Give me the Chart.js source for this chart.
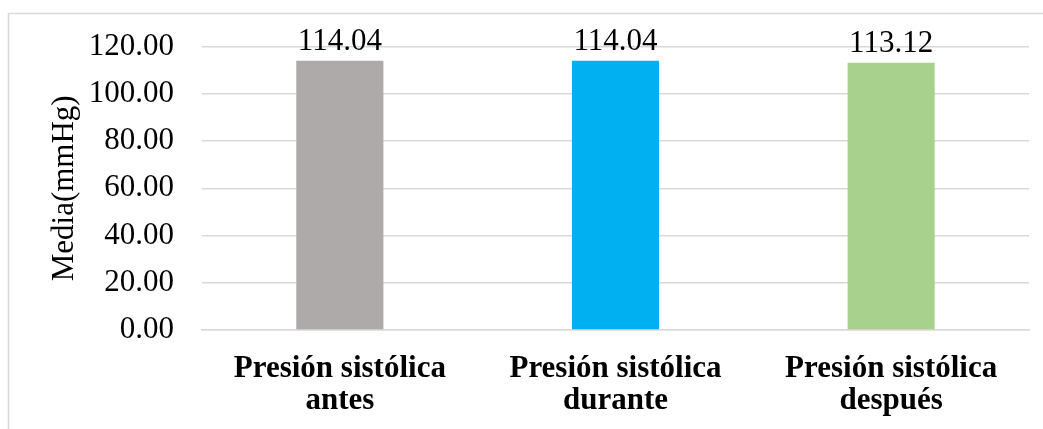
<!DOCTYPE html>
<html>
<head>
<meta charset="utf-8">
<script src="https://cdn.jsdelivr.net/npm/chart.js@4/dist/chart.umd.min.js"></script>
<style>
  html, body { margin: 0; padding: 0; background: #ffffff; overflow: hidden; }
  #wrap { width: 1043px; height: 429px; position: relative; }
</style>
</head>
<body>
<div id="wrap"><canvas id="c" width="1043" height="429"></canvas></div>
<script>
// Mean systolic pressure (mmHg) at three moments
const categories = [
  ['Presión sistólica', 'antes'],
  ['Presión sistólica', 'durante'],
  ['Presión sistólica', 'después']
];
const values = [114.04, 114.04, 113.12];
const barColors = ['#AEAAAA', '#00B0F0', '#A9D18E'];
const yTicks = [0, 20, 40, 60, 80, 100, 120];
const yTitle = 'Media(mmHg)';

const SERIF = "'Liberation Serif', 'Times New Roman', serif";

// Thin frame around the whole chart
const framePlugin = {
  id: 'frame',
  beforeDraw(chart) {
    const ctx = chart.ctx;
    ctx.save();
    ctx.fillStyle = '#ffffff';
    ctx.fillRect(0, 0, chart.width, chart.height);
    ctx.strokeStyle = '#d9d9d9';
    ctx.lineWidth = 1.5;
    ctx.strokeRect(8.5, 13.5, 3000, 3000);
    ctx.restore();
  }
};

// Value written above each bar
const valueLabels = {
  id: 'valueLabels',
  afterDatasetsDraw(chart) {
    const ctx = chart.ctx;
    const meta = chart.getDatasetMeta(0);
    ctx.save();
    ctx.font = '31px ' + SERIF;
    ctx.fillStyle = '#000000';
    ctx.textAlign = 'center';
    ctx.textBaseline = 'alphabetic';
    meta.data.forEach((bar, i) => {
      ctx.fillText(values[i].toFixed(2), bar.x, bar.y - 11);
    });
    ctx.restore();
  }
};

new Chart(document.getElementById('c'), {
  type: 'bar',
  data: {
    labels: categories,
    datasets: [{
      data: values,
      backgroundColor: barColors,
      borderWidth: 0,
      categoryPercentage: 1,
      barPercentage: 0.316
    }]
  },
  options: {
    responsive: false,
    animation: false,
    devicePixelRatio: 1,
    layout: { padding: { top: 44, right: 14, bottom: 0, left: 0 } },
    plugins: {
      legend: { display: false },
      tooltip: { enabled: false },
      title: { display: false }
    },
    scales: {
      x: {
        grid: { display: false, drawTicks: false },
        border: { display: true, color: '#d9d9d9', width: 1.5 },
        ticks: {
          color: '#000000',
          font: { family: SERIF, size: 31, weight: 'bold', lineHeight: 1.03 },
          padding: 23,
          maxRotation: 0,
          autoSkip: false
        },
        afterFit(scale) { scale.height = 99; }
      },
      y: {
        min: 0,
        max: 120,
        afterBuildTicks(scale) { scale.ticks = yTicks.map(v => ({ value: v })); },
        grid: { color: '#d9d9d9', lineWidth: 1.5, drawTicks: false },
        border: { display: false },
        ticks: {
          color: '#000000',
          font: { family: SERIF, size: 31 },
          padding: 28,
          callback: v => Number(v).toFixed(2)
        },
        title: {
          display: true,
          text: yTitle,
          color: '#000000',
          font: { family: SERIF, size: 31 },
          padding: { top: 46, bottom: 0 }
        },
        afterFit(scale) { scale.width = 202; }
      }
    }
  },
  plugins: [framePlugin, valueLabels]
});
</script>
</body>
</html>
